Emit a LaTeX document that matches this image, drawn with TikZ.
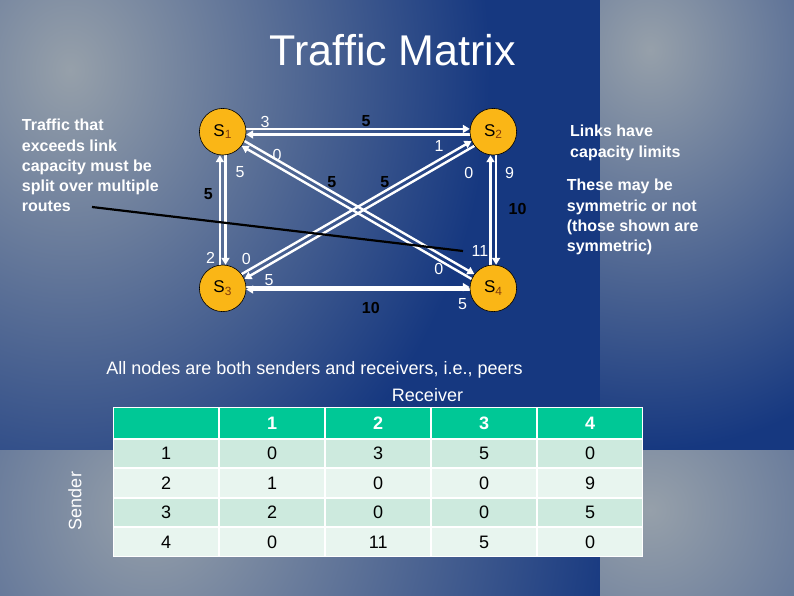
\documentclass[tikz,border=0pt]{standalone}
\usepackage{fontspec}
\setmainfont{Liberation Sans}
\usepackage{tikz}
\usetikzlibrary{calc,positioning,arrows.meta,matrix}

\definecolor{bggray}{RGB}{150,160,170}
\definecolor{bgblue}{RGB}{22,56,128}
\definecolor{stationfill}{RGB}{250,182,22}
\definecolor{subbrown}{RGB}{130,60,10}
\definecolor{hdrgreen}{RGB}{0,200,150}
\definecolor{rowdark}{RGB}{205,234,222}
\definecolor{rowlight}{RGB}{232,245,239}

\pgfdeclarelayer{back}
\pgfdeclarelayer{links}
\pgfsetlayers{back,links,main}

\newcommand{\fsize}[2]{\fontsize{#1}{#2}\selectfont}
% one white line each way between two stations
\newcommand{\twoway}[3]{%
  \draw[flow] ($(#2)!#1!90:(#3)$) -- ($(#3)!#1!-90:(#2)$);
  \draw[flow] ($(#3)!#1!90:(#2)$) -- ($(#2)!#1!-90:(#3)$);}

\begin{document}
\begin{tikzpicture}[x=1pt,y=-1pt,
    station/.style={circle,draw=black,line width=0.6pt,fill=stationfill,minimum size=46.6pt,inner sep=0pt,font=\fsize{17}{20}},
    flow/.style={white,line width=2.4pt,-{Triangle[length=7pt,width=8pt]},shorten <=23pt,shorten >=23.5pt},
    load/.style={text=white,font=\fsize{16}{19}},
    capa/.style={text=black,font=\bfseries\fsize{16}{19}},
    note/.style={text=white,align=left,inner sep=0pt,anchor=north west,font=\bfseries\fsize{16}{20.25}}]
  \useasboundingbox (0,0) rectangle (794,595);

  % background quarters
  \begin{pgfonlayer}{back}
    \fill[bgblue] (0,0) rectangle (794,595);
    \begin{scope}
      \clip (0,0) rectangle (600,450);
      \shade[inner color=bggray,outer color=bgblue] (70,70) ellipse (420 and 500);
    \end{scope}
    \begin{scope}
      \clip (600,0) rectangle (794,450);
      \shade[inner color=bggray,outer color=bgblue] (650,50) ellipse (350 and 400);
    \end{scope}
    \begin{scope}
      \clip (0,450) rectangle (600,595);
      \shade[inner color=bggray,outer color=bgblue] (150,510) ellipse (470 and 470);
    \end{scope}
    \begin{scope}
      \clip (600,450) rectangle (794,595);
      \shade[inner color=bggray,outer color=bgblue] (650,510) ellipse (460 and 460);
    \end{scope}
  \end{pgfonlayer}

  \node[text=white,font=\fsize{43}{50},anchor=base] (title) at (393,65) {Traffic Matrix};

  % stations
  \node[station] (1) at (222.7,131.7) {S{\color{subbrown}\textsubscript{1}}};
  \node[station,right=223.4pt of 1] (2) {S{\color{subbrown}\textsubscript{2}}};
  \node[station,below=109.4pt of 1] (3) {S{\color{subbrown}\textsubscript{3}}};
  \node[station,below=109.4pt of 2] (4) {S{\color{subbrown}\textsubscript{4}}};

  \begin{pgfonlayer}{links}
    \twoway{2.8pt}{1}{2}
    \twoway{2.8pt}{1}{3}
    \twoway{2.8pt}{2}{4}
    \twoway{1.2pt}{3}{4}
    \twoway{2.8pt}{1}{4}
    \twoway{2.8pt}{3}{2}
  \end{pgfonlayer}

  % loads and capacities
  \node[load] (l12) at (265,122) {3};
  \node[capa] (k12) at (366,121) {5};
  \node[load] (l21) at (439,146) {1};
  \node[load] (l13) at (240,172.5) {5};
  \node[capa] (k13) at (208.3,194) {5};
  \node[load] (l31) at (210.5,257.5) {2};
  \node[load] (l14) at (277,155) {0};
  \node[capa] (k14) at (331.7,182) {5};
  \node[load] (l41) at (438.7,269) {0};
  \node[load] (l32) at (246.2,259) {0};
  \node[capa] (k32) at (384.7,181.7) {5};
  \node[load] (l23) at (468.7,172.5) {0};
  \node[load] (l24) at (509.5,172.5) {9};
  \node[capa] (k24) at (517.5,209) {10};
  \node[load] (l42) at (480,250.5) {11};
  \node[load] (l34) at (269,280) {5};
  \node[capa] (k34) at (370.8,308) {10};
  \node[load] (l43) at (462.5,304) {5};

  % side notes
  \node[note] (split) at (21.7,119) {Traffic that\\exceeds link\\capacity must be\\split over multiple\\routes};
  \node[note] (limits) at (570,125) {Links have\\capacity limits};
  \node[note] (symm) at (566.7,179) {These may be\\symmetric or not\\(those shown are\\symmetric)};
  \coordinate (from) at (92,207);
  \coordinate (to) at (463,251);
  \draw[black,line width=2.2pt] (from) -- (to);

  \node[text=white,font=\fsize{18}{22},anchor=base] (peers) at (314.5,374) {All nodes are both senders and receivers, i.e., peers};
  \node[text=white,font=\fsize{18}{22},anchor=base] (recv) at (427.5,401) {Receiver};
  \node[text=white,font=\fsize{18}{22},rotate=90] (send) at (75,501) {Sender};

  \matrix (traffic) [matrix of nodes,nodes in empty cells,anchor=north west,fill=white,inner sep=1pt,
      row sep=2pt,column sep=2pt,
      nodes={anchor=center,minimum width=104pt,minimum height=27.5pt,inner sep=0pt,outer sep=0pt,font=\fsize{18}{21}},
      row 1/.style={nodes={fill=hdrgreen,text=white,font=\bfseries\fsize{18}{21},minimum height=29.5pt}},
      row 2/.style={nodes={fill=rowdark}},
      row 3/.style={nodes={fill=rowlight}},
      row 4/.style={nodes={fill=rowdark}},
      row 5/.style={nodes={fill=rowlight}}] at (113,407) {
       & 1 & 2 & 3 & 4 \\
    1 & 0 & 3 & 5 & 0 \\
    2 & 1 & 0 & 0 & 9 \\
    3 & 2 & 0 & 0 & 5 \\
    4 & 0 & 11 & 5 & 0 \\
  };
\end{tikzpicture}
\end{document}
